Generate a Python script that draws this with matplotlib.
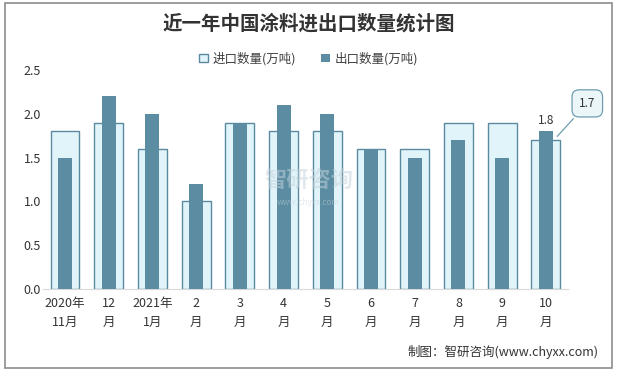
import matplotlib
matplotlib.use("Agg")
import matplotlib.pyplot as plt
import numpy as np
from matplotlib.patches import Rectangle

plt.rcParams['font.family'] = ['Noto Sans CJK SC', 'DejaVu Sans']

# data
months = ['2020年\n11月', '12\n月', '2021年\n1月', '2\n月', '3\n月', '4\n月',
          '5\n月', '6\n月', '7\n月', '8\n月', '9\n月', '10\n月']
imports = [1.8, 1.9, 1.6, 1.0, 1.9, 1.8, 1.8, 1.6, 1.6, 1.9, 1.9, 1.7]
exports = [1.5, 2.2, 2.0, 1.2, 1.9, 2.1, 2.0, 1.6, 1.5, 1.7, 1.5, 1.8]
yticks = [0.0, 0.5, 1.0, 1.5, 2.0, 2.5]

imp_face = '#E1F4FA'
imp_edge = '#5A8AA0'
exp_color = '#5B8CA2'

fig = plt.figure(figsize=(6.17, 3.71), dpi=100)
ax = fig.add_axes([0.07, 0.221, 0.85, 0.59])

x = np.arange(len(months))
ax.bar(x, imports, width=0.66, color=imp_face, edgecolor=imp_edge, linewidth=1.0,
       label='进口数量(万吨)', zorder=2)
ax.bar(x, exports, width=0.32, color=exp_color, label='出口数量(万吨)', zorder=3)

ax.set_ylim(0, 2.5)
ax.set_xlim(-0.5, len(months) - 0.5)
ax.set_yticks(yticks)
ax.set_yticklabels([f'{v:.1f}' for v in yticks], fontsize=9, color='#333333')
ax.set_xticks(x)
ax.set_xticklabels(months, fontsize=9, color='#333333', linespacing=1.6)
ax.tick_params(length=0)
ax.tick_params(axis='y', pad=14)
ax.tick_params(axis='x', pad=6)
for lab in ax.get_yticklabels():
    lab.set_horizontalalignment('left')
for s in ['top', 'right', 'left']:
    ax.spines[s].set_visible(False)
ax.spines['bottom'].set_color('#D9D9D9')

# labels on last month
ax.text(x[-1], exports[-1] + 0.05, f'{exports[-1]:.1f}', ha='center', va='bottom',
        fontsize=8.5, color='#333333')
ax.annotate(f'{imports[-1]:.1f}', xy=(x[-1] + 0.22, imports[-1] + 0.02),
            xytext=(x[-1] + 0.95, imports[-1] + 0.42), ha='center', va='center',
            fontsize=8.5, color='#333333', annotation_clip=False,
            bbox=dict(boxstyle='round,pad=0.6', fc='#EAF6F8', ec='#6E9DB0', lw=0.9),
            arrowprops=dict(arrowstyle='-', color='#6E9DB0', lw=0.9))

# watermark
fig.text(0.5, 0.515, '智研咨询', fontsize=16, color='#C5D3DC', alpha=0.5,
         ha='center', va='center', fontweight='bold')
fig.text(0.5, 0.455, 'www.chyxx.com', fontsize=6, color='#C5D3DC', alpha=0.5,
         ha='center', va='center')

fig.text(0.5, 0.935, '近一年中国涂料进出口数量统计图', ha='center', va='center',
         fontsize=14, fontweight='bold', color='#333333')
leg = fig.legend(loc='center', bbox_to_anchor=(0.5, 0.842), ncol=2, frameon=False,
                 fontsize=9, handlelength=0.7, handleheight=0.7, columnspacing=2.0,
                 handletextpad=0.4)
for t in leg.get_texts():
    t.set_color('#404040')
fig.text(0.97, 0.05, '制图：智研咨询(www.chyxx.com)', ha='right', va='center',
         fontsize=9, color='#333333')

fig.patches.append(Rectangle((0.008, 0.008), 0.984, 0.984, transform=fig.transFigure,
                             fill=False, edgecolor='#8C8C8C', linewidth=1.2))

fig.savefig('out.png', dpi=100)
